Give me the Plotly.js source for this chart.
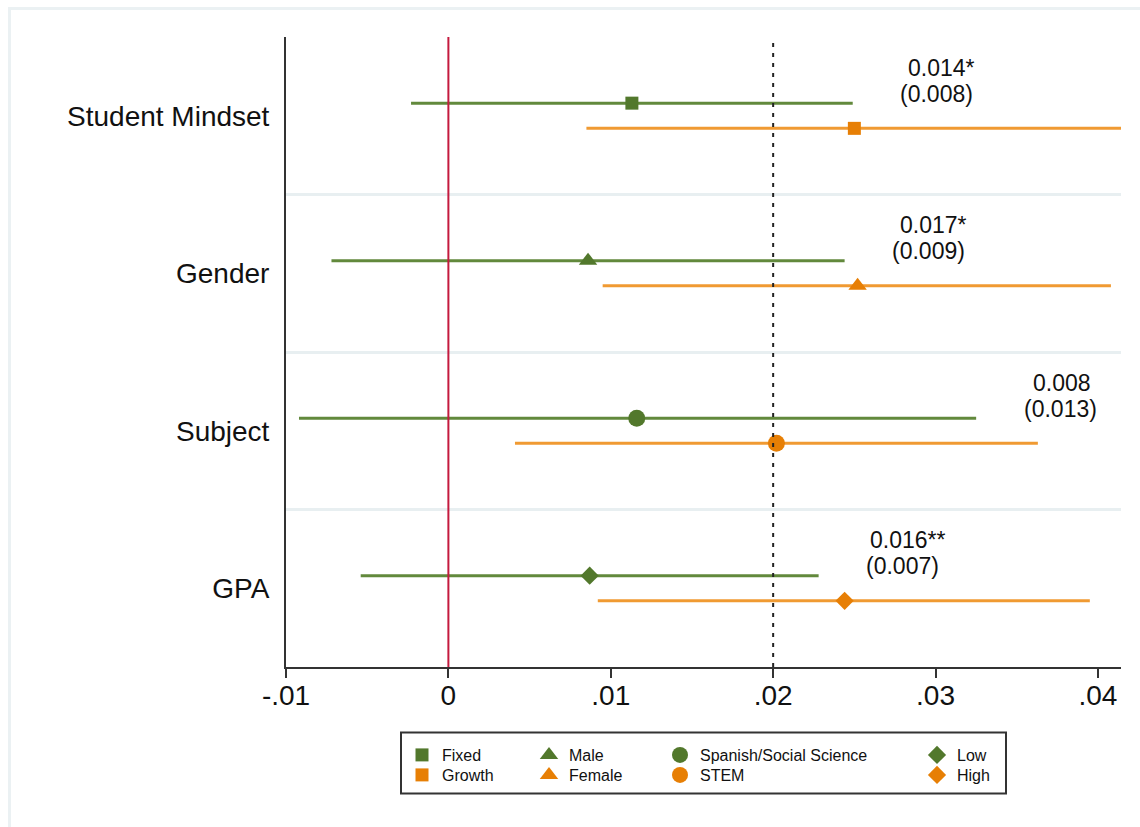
<!DOCTYPE html>
<html>
<head>
<meta charset="utf-8">
<script src="https://cdn.plot.ly/plotly-3.0.1.min.js"></script>
<style>
  html, body { margin: 0; padding: 0; background: #ffffff; }
  #frame {
    position: absolute; left: 8px; top: 7px; width: 1132px; height: 820px;
    border-top: 3px solid #ebf1f3; border-left: 3px solid #ebf1f3;
    box-sizing: border-box;
  }
  #chart { position: absolute; left: 0; top: 0; width: 1140px; height: 827px; }
</style>
</head>
<body>
<div id="frame"></div>
<div id="chart"></div>
<script>
// Subgroup estimates with confidence intervals, one row pair per dimension
const categories = ['Student Mindset', 'Gender', 'Subject', 'GPA'];
const lowNames  = ['Fixed', 'Male', 'Spanish/Social Science', 'Low'];
const highNames = ['Growth', 'Female', 'STEM', 'High'];

const lowEst = [0.0113, 0.0086, 0.0116, 0.0087];
const lowLo  = [-0.0023, -0.0072, -0.0092, -0.0054];
const lowHi  = [0.0249, 0.0244, 0.0325, 0.0228];

const highEst = [0.0250, 0.0252, 0.0202, 0.0244];
const highLo  = [0.0085, 0.0095, 0.0041, 0.0092];
const highHi  = [0.0418, 0.0408, 0.0363, 0.0395];

// Difference (high - low) and its standard error
const diffText = ['0.014*', '0.017*', '0.008', '0.016**'];
const seText   = ['(0.008)', '(0.009)', '(0.013)', '(0.007)'];

const xTickVals = [-0.01, 0, 0.01, 0.02, 0.03, 0.04];
const xTickText = ['-.01', '0', '.01', '.02', '.03', '.04'];

const zeroRef = 0;
const dottedRef = 0.02;

// ---- styling ----
const FONT = 'Liberation Sans, Arial, sans-serif';
const TXT = '#111111';
const GREEN = '#52782c';
const GREEN_LINE = '#62893c';
const ORANGE = '#e77f05';
const ORANGE_LINE = '#f09a32';
const symbols = ['square', 'triangle-up', 'circle', 'diamond'];
const sizes = [13, 16, 17, 14];
const rowOffset = 0.08;
const labelGap = 0.0053;

const n = categories.length;
const yOf = i => n - i;

// one single-item legend per entry, laid out as a 2 x 4 key
const legendCols = [402, 529, 660, 917];   // left edge of each key column (px)
const legendRows = [738, 758];             // top edge of each key row (px)
const legendId = k => (k === 0 ? 'legend' : 'legend' + (k + 1));

const traces = [];
for (let i = 0; i < n; i++) {
  traces.push({
    type: 'scatter', mode: 'markers',
    x: [lowEst[i]], y: [yOf(i) + rowOffset],
    name: lowNames[i], legend: legendId(2 * i),
    marker: { symbol: symbols[i], size: sizes[i], color: GREEN, line: { width: 0 } },
    error_x: { type: 'data', symmetric: false,
      array: [lowHi[i] - lowEst[i]], arrayminus: [lowEst[i] - lowLo[i]],
      color: GREEN_LINE, thickness: 3, width: 0 },
    hoverinfo: 'x+name'
  });
  traces.push({
    type: 'scatter', mode: 'markers',
    x: [highEst[i]], y: [yOf(i) - rowOffset],
    name: highNames[i], legend: legendId(2 * i + 1),
    marker: { symbol: symbols[i], size: sizes[i], color: ORANGE, line: { width: 0 } },
    error_x: { type: 'data', symmetric: false,
      array: [highHi[i] - highEst[i]], arrayminus: [highEst[i] - highLo[i]],
      color: ORANGE_LINE, thickness: 3, width: 0 },
    hoverinfo: 'x+name'
  });
}

const annotations = [];
for (let i = 0; i < n; i++) {
  const ax = lowHi[i] + labelGap;
  const starred = diffText[i].indexOf('*') >= 0;
  annotations.push({
    x: ax, y: yOf(i) + 0.305, xref: 'x', yref: 'y',
    text: diffText[i], showarrow: false, xanchor: 'center', yanchor: 'middle',
    xshift: starred ? 3 : 0,
    font: { family: FONT, size: 23, color: TXT }
  });
  annotations.push({
    x: ax, y: yOf(i) + 0.14, xref: 'x', yref: 'y',
    text: seText[i], showarrow: false, xanchor: 'center', yanchor: 'middle',
    xshift: -2,
    font: { family: FONT, size: 23, color: TXT }
  });
}

const shapes = [
  { type: 'line', xref: 'x', yref: 'paper', x0: zeroRef, x1: zeroRef, y0: 0, y1: 1,
    line: { color: '#c41a3e', width: 2 }, layer: 'above' },
  { type: 'line', xref: 'x', yref: 'paper', x0: dottedRef, x1: dottedRef, y0: 0, y1: 0.995,
    line: { color: '#222222', width: 2, dash: '4px,6px' }, layer: 'above' },
  // key box
  { type: 'rect', xref: 'paper', yref: 'paper',
    x0: (401 - 286) / 835, x1: (1006 - 286) / 835,
    y0: (667 - 793.5) / 630, y1: (667 - 732.5) / 630,
    line: { color: '#333333', width: 2 }, fillcolor: 'rgba(0,0,0,0)', layer: 'below' }
];

const layout = {
  width: 1140, height: 827,
  margin: { l: 286, r: 19, t: 37, b: 160 },
  paper_bgcolor: 'rgba(0,0,0,0)',
  plot_bgcolor: 'rgba(0,0,0,0)',
  font: { family: FONT, color: TXT },
  showlegend: true,
  xaxis: {
    range: [-0.01, 0.04142],
    tickmode: 'array', tickvals: xTickVals, ticktext: xTickText,
    showgrid: false, zeroline: false,
    showline: true, linecolor: '#333333', linewidth: 2,
    ticks: 'outside', ticklen: 9, tickwidth: 2, tickcolor: '#333333',
    ticklabelstandoff: -7,
    tickfont: { family: FONT, size: 28, color: TXT }
  },
  yaxis: {
    range: [0.5, 4.5],
    tickmode: 'array', tickvals: categories.map((c, i) => yOf(i)), ticktext: categories,
    showgrid: false, zeroline: false,
    showline: true, linecolor: '#333333', linewidth: 2,
    ticks: '', ticklabelstandoff: 9,
    tickfont: { family: FONT, size: 28, color: TXT },
    minor: { tickmode: 'array', tickvals: [1.5, 2.5, 3.5], showgrid: true,
             gridcolor: '#e8eff1', gridwidth: 3, ticks: '' }
  },
  shapes: shapes,
  annotations: annotations
};

for (let k = 0; k < 2 * n; k++) {
  const col = Math.floor(k / 2), row = k % 2;
  layout[legendId(k)] = {
    orientation: 'v', xanchor: 'left', yanchor: 'top',
    x: (legendCols[col] - 286) / 835,
    y: (667 - legendRows[row]) / 630,
    bgcolor: 'rgba(0,0,0,0)', borderwidth: 0,
    font: { family: FONT, size: 16, color: TXT }
  };
}

Plotly.newPlot('chart', traces, layout, { displayModeBar: false, staticPlot: true });
</script>
</body>
</html>
